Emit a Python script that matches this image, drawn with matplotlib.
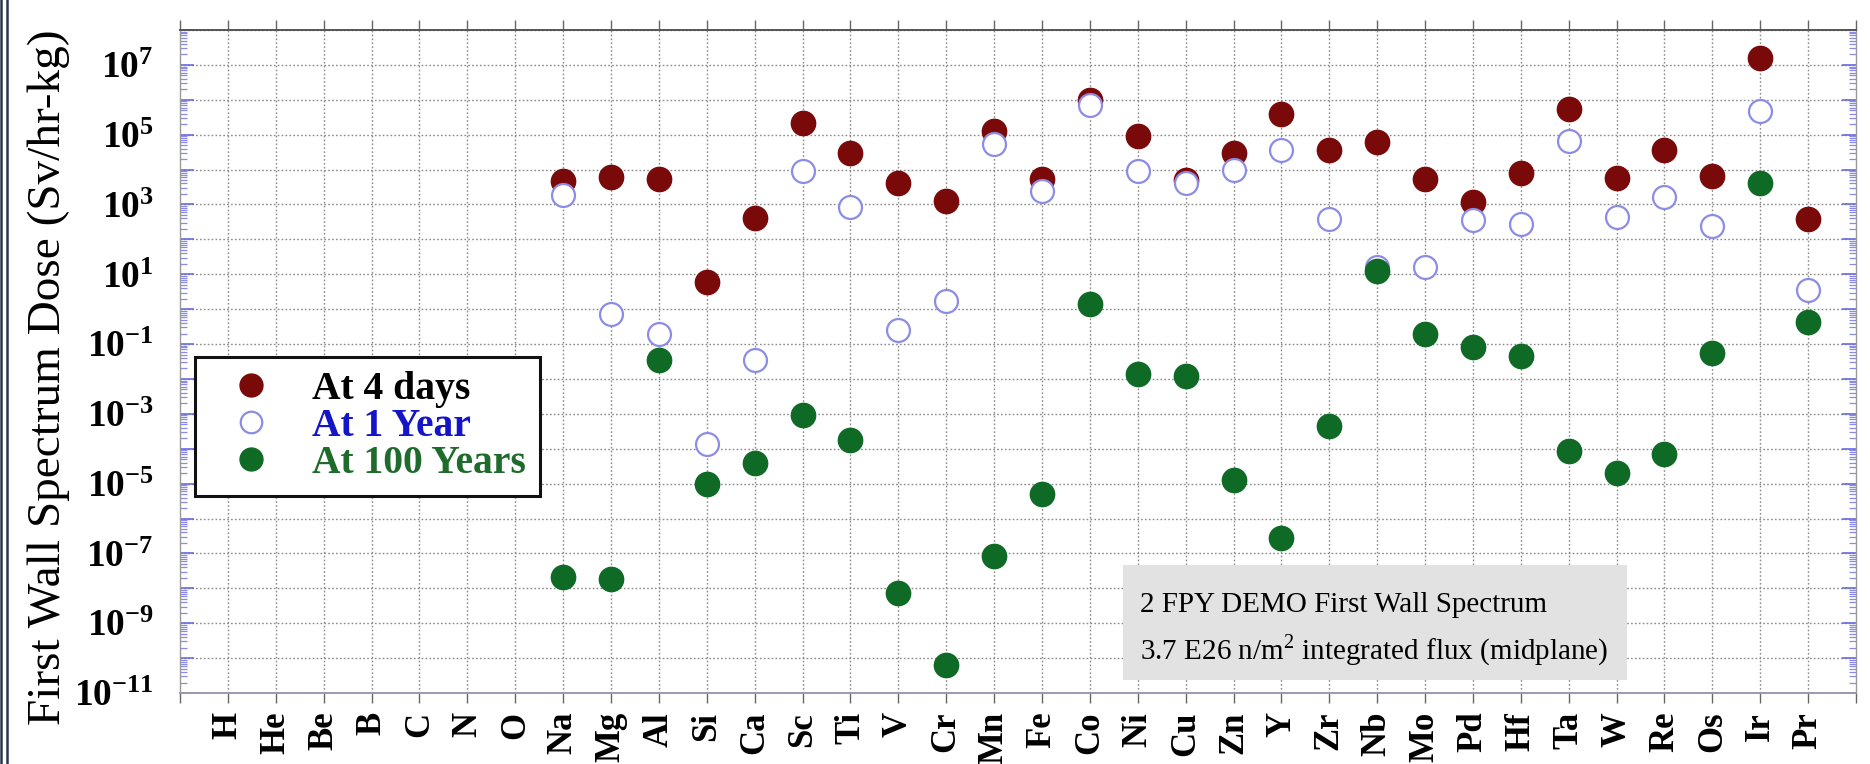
import numpy as np
import matplotlib
matplotlib.use("Agg")
import matplotlib.pyplot as plt
from matplotlib.ticker import LogLocator, FixedLocator, FuncFormatter, NullFormatter
from matplotlib.lines import Line2D
from matplotlib.patches import Rectangle

# Elements on the x axis (no activation data for the light elements H..O)
elements = ["H", "He", "Be", "B", "C", "N", "O", "Na", "Mg", "Al", "Si", "Ca",
            "Sc", "Ti", "V", "Cr", "Mn", "Fe", "Co", "Ni", "Cu", "Zn", "Y", "Zr",
            "Nb", "Mo", "Pd", "Hf", "Ta", "W", "Re", "Os", "Ir", "Pr"]
no_data = [np.nan] * 7

# Contact dose rate (Sv/hr-kg) for Na .. Pr
dose_4_days = no_data + [4.6e3, 6.1e3, 5.3e3, 6.2, 4.0e2, 2.2e5, 3.0e4, 4.0e3, 1.26e3,
                         1.3e5, 5.3e3, 1.0e6, 8.9e4, 5.2e3, 2.9e4, 3.9e5, 3.6e4, 6.0e4,
                         5.3e3, 1.2e3, 8.1e3, 5.5e5, 5.6e3, 3.6e4, 6.5e3, 1.55e7, 3.9e2]
dose_1_year = no_data + [1.9e3, 0.72, 0.19, 1.4e-4, 0.034, 9.4e3, 8.3e2, 0.26, 1.75,
                         5.5e4, 2.4e3, 7.2e5, 9.4e3, 4.2e3, 1.0e4, 3.6e4, 3.9e2, 16.0,
                         16.0, 3.7e2, 2.8e2, 6.4e4, 4.3e2, 1.6e3, 2.4e2, 4.8e5, 3.5]
dose_100_years = no_data + [2.1e-8, 1.9e-8, 0.034, 9.6e-6, 3.8e-5, 9.0e-4, 1.8e-4, 7.4e-9,
                            6.3e-11, 8.5e-8, 5.0e-6, 1.37, 0.014, 0.012, 1.3e-5, 2.7e-7,
                            4.4e-4, 12.6, 0.2, 0.085, 0.045, 8.7e-5, 2.0e-5, 7.0e-5,
                            0.055, 4.0e3, 0.42]

series_labels = ["At 4 days", "At 1 Year", "At 100 Years"]
label_colors = ["black", "#1414c8", "#1f6b2c"]

RED = "#7a0a0a"
GREEN = "#0e6a25"
OPEN_EDGE = "#8c8ce6"
SERIF = "Liberation Serif"

plt.rcParams["mathtext.fontset"] = "custom"
plt.rcParams["mathtext.rm"] = SERIF
plt.rcParams["mathtext.bf"] = SERIF + ":bold"
plt.rcParams["font.family"] = SERIF

fig = plt.figure(figsize=(18.7, 7.64), dpi=100)
ax = fig.add_axes([0.0963, 0.0929, 0.8962, 0.8678])

x = np.arange(len(elements))
ms = 17.5
ax.plot(x, dose_4_days, "o", ls="none", ms=ms, mfc=RED, mec=RED, mew=1, zorder=3)
ax.plot(x, dose_1_year, "o", ls="none", ms=ms - 1, mfc="white", mec=OPEN_EDGE, mew=1.6, zorder=4)
ax.plot(x, dose_100_years, "o", ls="none", ms=ms, mfc=GREEN, mec=GREEN, mew=1, zorder=5)

ax.set_yscale("log")
ax.set_ylim(1e-11, 1e8)
ax.set_xlim(-1, len(elements))

# x axis: one tick per element, on top and bottom, pointing out
ax.xaxis.set_major_locator(FixedLocator(x))
ax.set_xticklabels(elements, rotation=90, fontsize=25, fontweight="bold", family=SERIF)
ax.xaxis.set_minor_locator(FixedLocator([-1, len(elements)]))
ax.tick_params(axis="x", which="both", direction="out", length=7.5, width=1,
               color="#666666", top=True, bottom=True, labeltop=False, pad=6)

# y axis: decade ticks, labels on odd exponents only
ax.yaxis.set_major_locator(LogLocator(base=10, numticks=40))
ax.yaxis.set_minor_locator(LogLocator(base=10, subs=np.arange(2, 10), numticks=40))
ax.yaxis.set_minor_formatter(NullFormatter())


def decade_label(v, pos):
    e = int(round(np.log10(v)))
    if e % 2 == 0:
        return ""
    return r"$\mathbf{10^{%d}}$" % e


ax.yaxis.set_major_formatter(FuncFormatter(decade_label))
ax.tick_params(axis="y", which="major", direction="in", length=10, width=1.2,
               color="#6a6ae0", left=True, right=True, labelsize=27, pad=19)
ax.tick_params(axis="y", which="minor", direction="in", length=5, width=0.9,
               color="#8a8aee", left=True, right=True)

ax.grid(True, which="major", color="#8a8a8a", lw=1.0, ls=(0, (1.2, 1.6)), zorder=1)
ax.set_axisbelow(True)

for side, col in [("top", "#555555"), ("bottom", "#9a9ab4"), ("left", "#999999"), ("right", "#999999")]:
    ax.spines[side].set_color(col)
    ax.spines[side].set_linewidth(1.4 if side in ("top", "bottom") else 1.0)

ax.set_ylabel("First Wall Spectrum Dose (Sv/hr-kg)", fontsize=34, family=SERIF)
ax.yaxis.set_label_coords(-0.0655, 0.476)

# Legend
handles = [
    Line2D([], [], ls="none", marker="o", ms=ms - 1, mfc=RED, mec=RED),
    Line2D([], [], ls="none", marker="o", ms=ms - 2, mfc="white", mec=OPEN_EDGE, mew=1.6),
    Line2D([], [], ls="none", marker="o", ms=ms - 1, mfc=GREEN, mec=GREEN),
]
leg = ax.legend(handles, series_labels, loc="upper left", bbox_to_anchor=(0.009, 0.507),
                borderaxespad=0, frameon=True, fancybox=False, framealpha=1,
                prop={"family": SERIF, "weight": "bold", "size": 28.5},
                labelcolor=label_colors, handletextpad=0.5, labelspacing=0.0,
                borderpad=0.36, handlelength=2.1)
leg.get_frame().set_edgecolor("#111111")
leg.get_frame().set_linewidth(2.2)
leg.set_zorder(10)

# Irradiation conditions box
ax.add_patch(Rectangle((0.5626, 0.0196), 0.3008, 0.1734, transform=ax.transAxes,
                       facecolor="#e2e2e2", edgecolor="none", zorder=6))
ax.text(0.5728, 0.1327, "2 FPY DEMO First Wall Spectrum", transform=ax.transAxes,
        fontsize=21, family=SERIF, va="center", ha="left", zorder=7)
ax.text(0.5728, 0.0649, r"3.7 E26 n/m$^{2}$ integrated flux (midplane)", transform=ax.transAxes,
        fontsize=21, family=SERIF, va="center", ha="left", zorder=7)

# Slide border on the left edge
for xp in (0.0008, 0.0035):
    fig.add_artist(Line2D([xp, xp], [0, 1], transform=fig.transFigure, color="#2b3550", lw=1.8))

fig.savefig("out.png", dpi=100)
